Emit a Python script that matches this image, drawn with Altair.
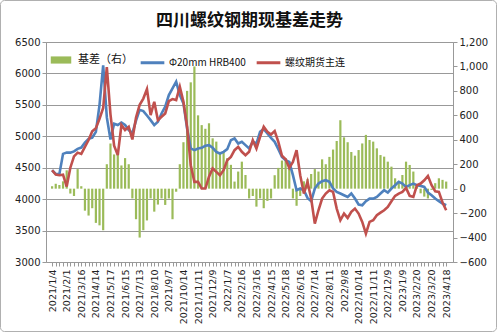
import altair as alt
import pandas as pd

# date tick labels (every 20 trading days)
tick_labels = ["2021/1/4", "2021/2/1", "2021/3/16", "2021/4/14", "2021/5/17", "2021/6/15",
               "2021/7/13", "2021/8/10", "2021/9/7", "2021/10/14", "2021/11/11", "2021/12/9",
               "2022/1/7", "2022/2/16", "2022/3/16", "2022/4/15", "2022/5/18", "2022/6/16",
               "2022/7/14", "2022/8/11", "2022/9/8", "2022/10/14", "2022/11/11", "2022/12/9",
               "2023/1/9", "2023/2/20", "2023/3/20", "2023/4/18"]

# spot price Φ20mm HRB400 (sampled every 5 trading days)
spot = [4460, 4400, 4400, 4720, 4740, 4740, 4760, 4800, 4820, 4900,
        4960, 4980, 5070, 5500, 6130, 5300, 4950, 5200, 5180, 5220,
        5180, 5100, 5050, 5250, 5420, 5400, 5330, 5257, 5178, 5230,
        5363, 5470, 5655, 5762, 5868, 5655, 5523, 5125, 4806, 4779,
        4806, 4817, 4848, 4859, 4817, 4753, 4726, 4753, 4795, 4939,
        4965, 4885, 4912, 4859, 4806, 4912, 4885, 5071, 5114, 5045,
        4976, 4912, 4795, 4673, 4620, 4593, 4381, 4142, 4169, 4142,
        4020, 3967, 4169, 4248, 4286, 4301, 4275, 4169, 4115, 4089,
        4062, 4036, 4089, 4009, 3914, 3903, 3967, 4009, 4009, 4036,
        4089, 4142, 4105, 4169, 4222, 4275, 4248, 4195, 4222, 4248,
        4222, 4211, 4195, 4105, 4062, 4009, 3967, 3930, 3903]

# rebar futures main contract
futures = [4460, 4390, 4380, 4390, 4200, 4500, 4680, 4740, 4720, 4830,
           4940, 5080, 5130, 5280, 5450, 6100, 5350, 4850, 4700, 5180,
           5100, 5150, 4950, 5300, 5500, 5600, 5750, 5337, 5549, 5257,
           5310, 5363, 5560, 5592, 5576, 5788, 5549, 5150, 4540, 4275,
           4275, 4169, 4169, 4355, 4487, 4434, 4381, 4461, 4620, 4673,
           4779, 4832, 4753, 4700, 4753, 4939, 4806, 4992, 5151, 5071,
           5029, 5082, 4912, 4689, 4636, 4498, 4593, 4779, 4381, 4089,
           4275, 4010, 3611, 3823, 4010, 4089, 4142, 4115, 3850, 3664,
           3770, 3701, 3797, 3850, 3770, 3638, 3452, 3638, 3664, 3744,
           3786, 3823, 3877, 3967, 4052, 4089, 4115, 4179, 4052, 4036,
           4222, 4248, 4301, 4370, 4222, 4126, 4115, 3946, 3823]

# basis (right axis)
basis = [20, 40, 30, 60, 150, -40, -60, 160, 20, -180,
         -220, -160, -280, -300, -340, 200, 370, 280, 300, 190,
         250, 200, -80, -250, -400, -340, -260, -80, -188, -130,
         -80, -133, -80, -250, -25, 200, 380, 800, 870, 1000,
         600, 520, 490, 535, 412, 385, 300, 300, 250, 195,
         58, 140, 221, 112, -80, -60, -147, -80, -160, -100,
         -80, 110, 170, 230, 250, 220, -80, -140, -60, 60,
         80, 120, 160, 140, 240, 200, 260, 320, 390, 560,
         420, 380, 300, 270, 316, 370, 440, 398, 385, 330,
         275, 262, 221, 180, 85, 58, 112, 221, 194, 140,
         30, -38, -65, -80, -10, 45, 85, 72, 58]

n = len(spot)
idx = list(range(n))

series_names = ["Φ20mm HRB400", "螺纹期货主连"]
lines_df = pd.DataFrame({
    "k": idx * 2,
    "v": spot + futures,
    "s": [series_names[0]] * n + [series_names[1]] * n,
    "o": [0] * n + [1] * n,
})
bars_df = pd.DataFrame({"k": idx, "b": basis, "s": ["基差（右）"] * n})

FONT = "DejaVu Sans"
label_js = "[" + ",".join("'" + t + "'" for t in tick_labels) + "]"

x_enc = alt.X(
    "k:Q",
    scale=alt.Scale(domain=[-0.3, n - 0.5], nice=False, zero=False),
    axis=alt.Axis(
        title=None, values=idx, labelAngle=270, labelOverlap=False,
        labelExpr=f"datum.value % 4 == 0 ? {label_js}[datum.value / 4] : ''",
        labelFont=FONT, labelFontSize=9.5, labelColor="#222", labelPadding=3,
        tickSize=4, tickColor="#999", domain=False, grid=False,
    ),
)

bars = alt.Chart(bars_df).mark_bar(size=2.2).encode(
    x=x_enc,
    y=alt.Y("b:Q", scale=alt.Scale(domain=[-600, 1200], nice=False),
            axis=alt.Axis(title=None, orient="right", values=list(range(-600, 1201, 200)),
                          format=",d", labelFont=FONT, labelFontSize=10, labelColor="#222",
                          tickSize=4, tickColor="#999", domain=False, grid=False)),
    fill=alt.Fill("s:N", scale=alt.Scale(domain=["基差（右）"], range=["#9bbb59"]),
                  legend=alt.Legend(title=None, orient="none", legendX=4, legendY=7,
                                    symbolType="M-1,-0.35H1V0.35H-1Z", symbolSize=420,
                                    labelFont="Noto Sans CJK SC", labelFontSize=11,
                                    labelColor="#111", labelOffset=6)),
)

lines = alt.Chart(lines_df).mark_line(strokeWidth=2.6).encode(
    x=x_enc,
    y=alt.Y("v:Q", scale=alt.Scale(domain=[3000, 6500], nice=False, zero=False),
            axis=alt.Axis(title=None, orient="left", values=list(range(3000, 6501, 500)),
                          format="d",
                          labelFont=FONT, labelFontSize=10, labelColor="#222",
                          tickSize=4, tickColor="#999", domain=False,
                          grid=True, gridColor="#999", gridWidth=1)),
    stroke=alt.Stroke("s:N", scale=alt.Scale(domain=series_names, range=["#4f81bd", "#c0504d"]),
                      legend=alt.Legend(title=None, orient="none", legendX=93, legendY=7,
                                        direction="horizontal", symbolType="stroke",
                                        symbolSize=560, symbolStrokeWidth=3,
                                        columnPadding=4, labelOffset=3,
                                        labelFont="Noto Sans CJK SC", labelFontSize=10,
                                        labelColor="#111")),
    order="o:Q",
    detail="s:N",
)

border = alt.Chart(pd.DataFrame({"a": [0]})).mark_rect(
    fill=None, stroke="#b0b0b0", strokeWidth=1, cornerRadius=4
).encode(x=alt.value(-45.5), x2=alt.value(450.5), y=alt.value(-41.5), y2=alt.value(289.5))

chart = alt.layer(bars, lines, border).resolve_scale(
    y="independent", fill="independent", stroke="independent"
).properties(
    width=407, height=220,
    title=alt.TitleParams("四川螺纹钢期现基差走势", font="Noto Sans CJK SC", fontSize=17,
                          fontWeight="bold", color="#111", anchor="middle", offset=-30),
    autosize=alt.AutoSizeParams(type="none"),
    padding={"left": 46, "top": 42, "right": 44, "bottom": 70},
).configure_view(stroke="#999", strokeWidth=1)

chart.save("out.html", embed_options={"renderer": "svg", "actions": False})
